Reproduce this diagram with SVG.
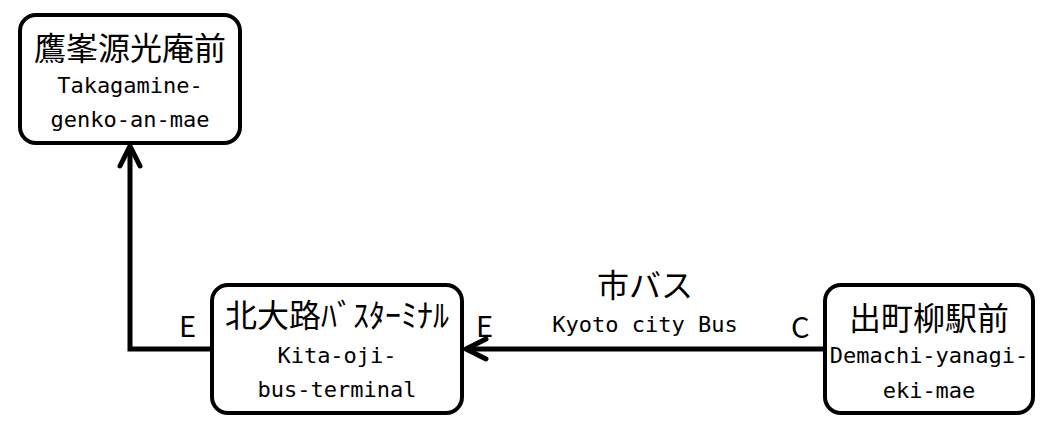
<svg xmlns="http://www.w3.org/2000/svg" width="1061" height="432" viewBox="0 0 1061 432">
<style>
.box{fill:#fff;stroke:#000;stroke-width:4}
.jp{font-family:"Noto Sans CJK JP","Noto Sans",sans-serif;font-size:32px;fill:#000;text-anchor:middle}
.en{font-family:"DejaVu Sans Mono","Liberation Mono",monospace;font-size:22px;fill:#000;text-anchor:middle}
.lbl{font-family:"Noto Sans CJK JP","Liberation Sans",sans-serif;font-size:29px;fill:#000}
.edge{fill:none;stroke:#000;stroke-width:5}
</style>
<defs>
<marker id="arr" markerUnits="userSpaceOnUse" markerWidth="40" markerHeight="40" viewBox="-30 -20 40 40" refX="0" refY="0" orient="auto" overflow="visible">
<path d="M-20,-10 L0,0 L-20,10" fill="none" stroke="#000" stroke-width="5" stroke-linejoin="round" stroke-linecap="round"/>
</marker>
</defs>
<rect width="1061" height="432" fill="#fff"/>
<g id="connectors">
<path class="edge" d="M212,349 H130 V146" marker-end="url(#arr)"/>
<path class="edge" d="M825,349 H466" marker-end="url(#arr)"/>
<text class="lbl" x="179" y="337">E</text>
<text class="lbl" x="476" y="337">E</text>
<text class="lbl" x="791" y="338">C</text>
<text class="jp" x="645" y="297">市バス</text>
<text class="en" x="645" y="332">Kyoto city Bus</text>
</g>
<g id="takagamine">
<rect class="box" x="20" y="15" width="220" height="128" rx="16"/>
<text class="jp" x="130" y="60">鷹峯源光庵前</text>
<text class="en" x="130" y="93">Takagamine-</text>
<text class="en" x="130" y="127">genko-an-mae</text>
</g>
<g id="kitaoji">
<rect class="box" x="212" y="285" width="250" height="128" rx="16"/>
<text class="jp" x="337" y="327">北大路ﾊﾞｽﾀｰﾐﾅﾙ</text>
<text class="en" x="337" y="363">Kita-oji-</text>
<text class="en" x="337" y="397">bus-terminal</text>
</g>
<g id="demachi">
<rect class="box" x="825" y="285" width="208" height="128" rx="16"/>
<text class="jp" x="929" y="330">出町柳駅前</text>
<text class="en" x="929" y="363">Demachi-yanagi-</text>
<text class="en" x="929" y="398">eki-mae</text>
</g>
</svg>
